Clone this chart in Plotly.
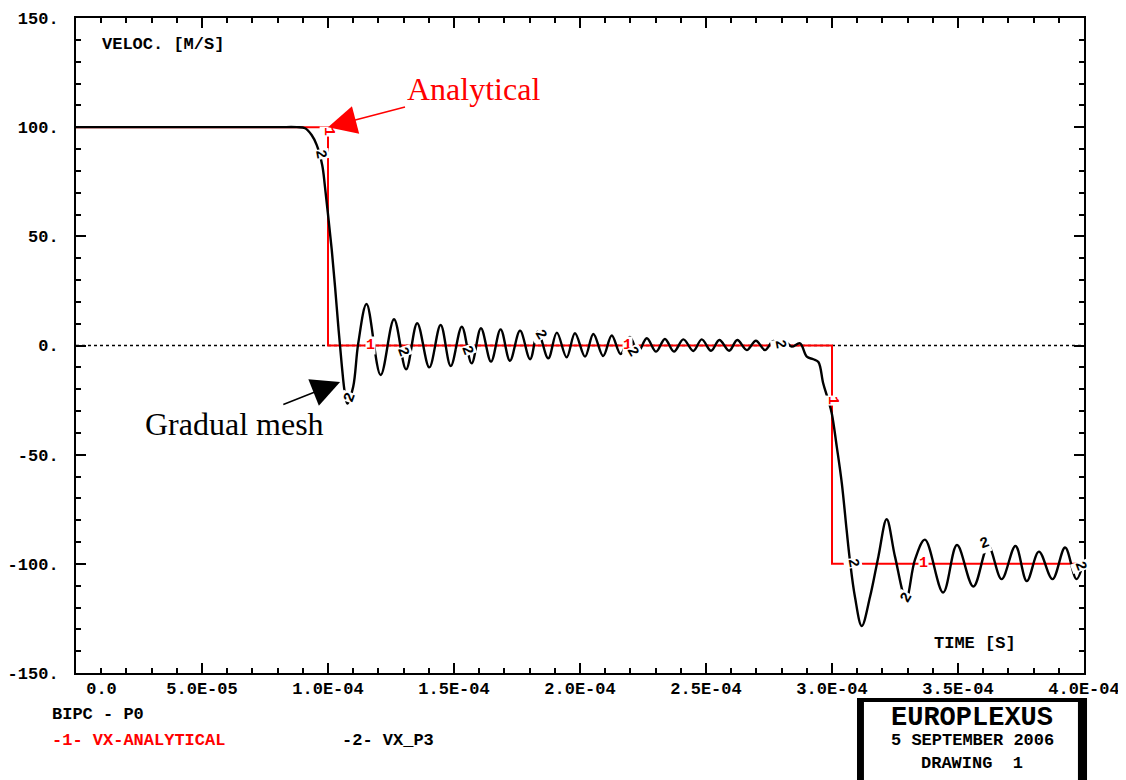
import plotly.graph_objects as go

# ---------------- data ----------------
# Analytical solution (curve 1)
analytical_t = [0.0, 1.0e-4, 1.0e-4, 3.0e-4, 3.0e-4, 4.0e-4]
analytical_v = [100, 100, 0, 0, -100, -100]

# Numerical solution VX_P3 (curve 2), time in microseconds
p3_time_us = [0.0, 40.0, 80.0, 87.6, 90.9, 93.5, 95.5, 97.7, 98.8, 100.1, 101.5, 102.8,
              104.1, 105.4, 106.7, 107.7, 110.0, 112.0, 115.3, 120.9, 126.2, 131.0,
              135.4, 140.2, 144.7, 148.7, 153.1, 157.0, 160.7, 164.7, 168.5, 172.2,
              176.2, 180.2, 183.3, 187.4, 190.8, 194.7, 198.0, 202.0, 205.3, 209.2,
              212.6, 216.1, 219.8, 223.0, 226.5, 230.2, 233.7, 237.3, 241.0, 245.0,
              248.3, 252.0, 255.3, 259.2, 262.4, 266.2, 269.8, 273.4, 276.7, 280.0,
              281.4, 284.0, 287.3, 290.0, 292.6, 294.6, 296.5, 298.5, 299.9, 301.9,
              303.9, 305.8, 307.1, 309.1, 311.8, 315.1, 318.4, 321.7, 325.0, 329.4,
              332.9, 336.9, 344.1, 349.6, 356.1, 362.0, 367.3, 372.8, 377.3, 382.1,
              387.5, 392.5, 397.0, 399.8]
p3_v = [100.0, 100.0, 100.0, 100.0, 99.5, 96.4, 91.9, 82.7, 72.7, 59.0, 43.7, 26.9,
        8.6, -8.2, -21.9, -26.6, -18.9, 1.0, 19.0, -13.5, 12.0, -10.9,
        10.2, -10.0, 9.4, -9.4, 8.6, -8.2, 7.9, -7.4, 7.4, -7.0,
        6.8, -6.3, 6.3, -5.9, 5.9, -5.4, 5.6, -5.1, 5.3, -4.8,
        4.6, -3.9, 3.9, -3.2, 3.3, -2.8, 3.0, -2.8, 2.8, -2.5,
        2.8, -2.4, 2.5, -2.4, 2.5, -2.1, 2.2, -2.1, 2.1, -0.8,
        1.7, -0.5, 1.0, -5.1, -6.3, -7.6, -17.3, -25.0, -31.0, -46.4,
        -63.1, -84.5, -98.3, -115.1, -128.5, -115.1, -96.7, -79.6, -96.7, -116.1,
        -98.2, -88.9, -113.1, -91.4, -110.4, -91.8, -107.0, -91.8, -107.9, -94.4,
        -107.0, -92.5, -107.0, -99.2]
p3_t = [t * 1e-6 for t in p3_time_us]

# Curve-number labels (time in microseconds, value, rotation)
label1_t_us = [100.4, 116.7, 219.0, 300.4, 336.5]
label1_v = [98.2, 0.0, 0.0, -25.0, -99.8]
label1_angle = [90, 0, 0, 90, 0]

label2_t_us = [96.8, 108.7, 129.4, 155.2, 184.5, 221.0, 279.0, 308.3, 329.4, 360.7, 398.4]
label2_v = [87.3, -23.6, -2.9, -2.1, 4.8, -3.0, 0.7, -99.8, -115.7, -90.5, -101.4]
label2_angle = [80, -70, 70, 70, 60, 60, 80, 80, -60, -20, 70]

# Axis ticks
x_tick_vals = [0.0, 5.0e-5, 1.0e-4, 1.5e-4, 2.0e-4, 2.5e-4, 3.0e-4, 3.5e-4, 4.0e-4]
x_tick_text = ["\u00a0\u00a0\u00a0\u00a0\u00a00.0", "5.0E-05", "1.0E-04", "1.5E-04", "2.0E-04",
               "2.5E-04", "3.0E-04", "3.5E-04", "4.0E-04"]
y_tick_vals = [-150, -100, -50, 0, 50, 100, 150]
y_tick_text = ["-150.", "-100.", "-50.", "0.", "50.", "100.", "150."]

# ---------------- figure ----------------
MONO = "Liberation Mono"
SERIF = "Liberation Serif"

fig = go.Figure()

# dotted zero reference line
fig.add_trace(go.Scatter(x=[x_tick_vals[0], x_tick_vals[-1]], y=[0, 0], mode="lines",
                         line=dict(color="black", width=1.3, dash="dot"), hoverinfo="skip"))

fig.add_trace(go.Scatter(x=analytical_t, y=analytical_v, mode="lines",
                         line=dict(color="#ff0000", width=2), name="VX-ANALYTICAL"))

fig.add_trace(go.Scatter(x=p3_t, y=p3_v, mode="lines",
                         line=dict(color="black", width=2.4, shape="spline", smoothing=1.0),
                         name="VX_P3"))

annotations = []
for t, v, a in zip(label1_t_us, label1_v, label1_angle):
    annotations.append(dict(x=t * 1e-6, y=v, xref="x", yref="y", text="1", showarrow=False,
                            textangle=a, bgcolor="white", borderpad=0,
                            font=dict(family=MONO, size=15, color="#ff0000", weight="bold")))
for t, v, a in zip(label2_t_us, label2_v, label2_angle):
    annotations.append(dict(x=t * 1e-6, y=v, xref="x", yref="y", text="2", showarrow=False,
                            textangle=a, bgcolor="white", borderpad=0,
                            font=dict(family=MONO, size=15, color="black", weight="bold")))

# callouts
annotations.append(dict(x=1.0e-4, y=100, xref="x", yref="y", text="Analytical",
                        font=dict(family=SERIF, size=32, color="#ff0000"),
                        showarrow=True, arrowhead=2, arrowsize=3.8, arrowwidth=1.5,
                        arrowcolor="#ff0000", ax=145, ay=-38, standoff=0))
annotations.append(dict(x=104.8e-6, y=-16.7, xref="x", yref="y", text="Gradual mesh",
                        font=dict(family=SERIF, size=32, color="black"),
                        showarrow=True, arrowhead=2, arrowsize=3.8, arrowwidth=1.5,
                        arrowcolor="black", ax=-106, ay=42, standoff=0))

# axis titles inside the frame
annotations.append(dict(x=0.0238, y=0.9603, xref="paper", yref="paper", text="VELOC. [M/S]",
                        xanchor="left", yanchor="middle", showarrow=False,
                        font=dict(family=MONO, size=17, color="black", weight="bold")))
annotations.append(dict(x=0.8919, y=0.0458, xref="paper", yref="paper", text="TIME [S]",
                        xanchor="center", yanchor="middle", showarrow=False,
                        font=dict(family=MONO, size=17, color="black", weight="bold")))

# legend block
annotations.append(dict(x=-0.0258, y=-0.0641, xref="paper", yref="paper", text="BIPC - P0",
                        xanchor="left", yanchor="middle", showarrow=False,
                        font=dict(family=MONO, size=17, color="black", weight="bold")))
annotations.append(dict(x=-0.0258, y=-0.1023, xref="paper", yref="paper", text="-1- VX-ANALYTICAL",
                        xanchor="left", yanchor="middle", showarrow=False,
                        font=dict(family=MONO, size=17, color="#ff0000", weight="bold")))
annotations.append(dict(x=0.2619, y=-0.1023, xref="paper", yref="paper", text="-2- VX_P3",
                        xanchor="left", yanchor="middle", showarrow=False,
                        font=dict(family=MONO, size=17, color="black", weight="bold")))

# title block
annotations.append(dict(x=0.8889, y=-0.0687, xref="paper", yref="paper", text="EUROPLEXUS",
                        xanchor="center", yanchor="middle", showarrow=False,
                        font=dict(family=MONO, size=27, color="black", weight="bold")))
annotations.append(dict(x=0.8889, y=-0.1038, xref="paper", yref="paper", text="5 SEPTEMBER 2006",
                        xanchor="center", yanchor="middle", showarrow=False,
                        font=dict(family=MONO, size=17, color="black", weight="bold")))
annotations.append(dict(x=0.8889, y=-0.1389, xref="paper", yref="paper",
                        text="DRAWING\u00a0\u00a01",
                        xanchor="center", yanchor="middle", showarrow=False,
                        font=dict(family=MONO, size=17, color="black", weight="bold")))

shapes = [
    dict(type="rect", xref="paper", yref="paper", x0=0.7748, x1=1.003, y0=-0.19, y1=-0.0382,
         fillcolor="black", line=dict(width=0), layer="below"),
    dict(type="rect", xref="paper", yref="paper", x0=0.7817, x1=0.994, y0=-0.19, y1=-0.0443,
         fillcolor="white", line=dict(width=0), layer="below"),
]

tickfont = dict(family=MONO, size=17, color="black", weight="bold")

fig.update_xaxes(range=[0, 4e-4], tickmode="array", tickvals=x_tick_vals, ticktext=x_tick_text,
                 ticks="inside", ticklen=10, tickwidth=1.5, tickcolor="black",
                 minor=dict(ticks="inside", ticklen=5, tickwidth=1.5, tickcolor="black",
                            tick0=0, dtick=1e-5),
                 showline=True, linecolor="black", linewidth=2, mirror="ticks",
                 showgrid=False, zeroline=False, tickfont=tickfont, ticklabelstandoff=-1,
                 automargin=False)
fig.update_yaxes(range=[-150, 150], tickmode="array", tickvals=y_tick_vals, ticktext=y_tick_text,
                 ticks="inside", ticklen=10, tickwidth=1.5, tickcolor="black",
                 minor=dict(ticks="inside", ticklen=5, tickwidth=1.5, tickcolor="black",
                            tick0=0, dtick=10),
                 showline=True, linecolor="black", linewidth=2, mirror="ticks",
                 showgrid=False, zeroline=False, tickfont=tickfont, ticklabelstandoff=12,
                 automargin=False)

# page body has an 8px offset; size the figure so the plot frame lands where the reference has it
fig.update_layout(width=1118, height=772, margin=dict(l=68, r=42, t=10, b=107, autoexpand=False),
                  paper_bgcolor="white", plot_bgcolor="white", showlegend=False,
                  annotations=annotations, shapes=shapes)

fig.write_html("out.html")
